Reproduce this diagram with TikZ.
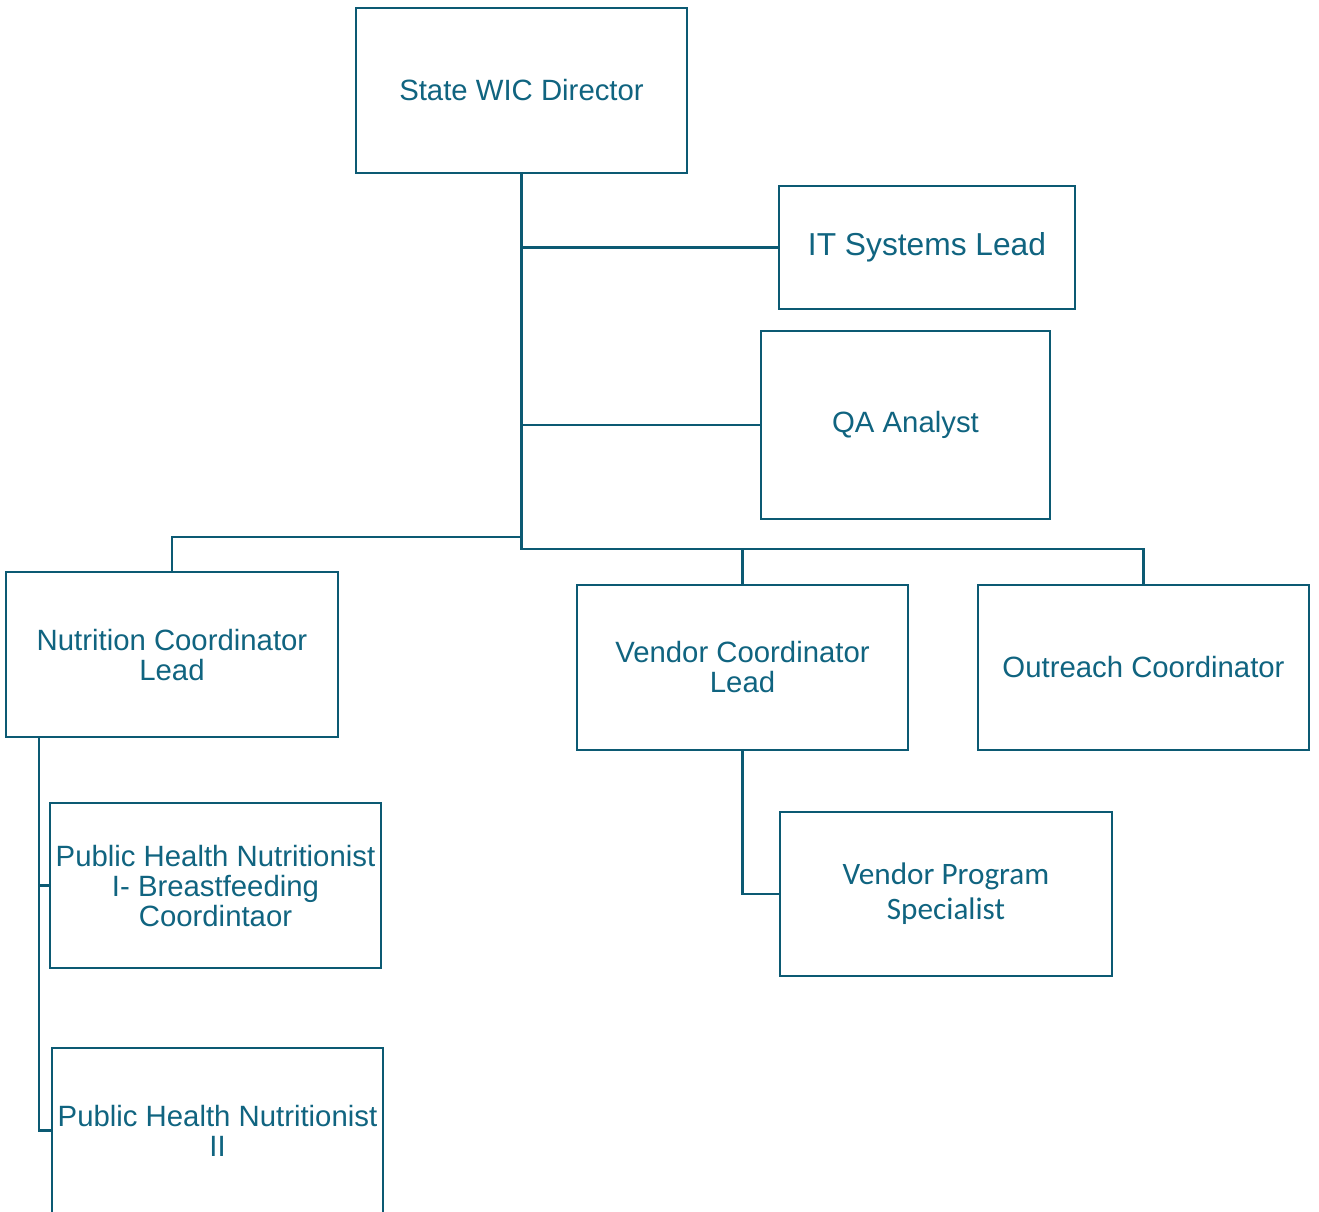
\documentclass[tikz,border=0pt]{standalone}
\usepackage{fontspec}
\setmainfont{Liberation Sans}
\newfontfamily\calibrifont{Carlito}
\definecolor{linec}{RGB}{12,90,115}
\definecolor{textc}{RGB}{16,100,128}
\begin{document}
\begin{tikzpicture}[x=0.75pt,y=-0.75pt,
  box/.style={draw=linec,line width=1.9pt,rectangle,inner sep=0pt,align=center,text=textc,
    font=\fontsize{22}{22.5}\selectfont},
  conn/.style={draw=linec,line width=2.1pt}]
\useasboundingbox (0,0) rectangle (1319,1211);
\fill[white] (0,0) rectangle (1319,1211);
\node[box,minimum width=331*0.75pt,minimum height=165*0.75pt] (dir) at (521.5,90.5) {State WIC Director};
\node[box,minimum width=296*0.75pt,minimum height=123*0.75pt,font=\fontsize{23.8}{24}\selectfont] (it) at (927,247.5) {IT Systems Lead};
\node[box,minimum width=289*0.75pt,minimum height=188*0.75pt] (qa) at (905.5,425) {QA Analyst};
\node[box,minimum width=332*0.75pt,minimum height=165*0.75pt] (ncl) at (172,654.5) {Nutrition Coordinator\\Lead};
\node[box,minimum width=331*0.75pt,minimum height=165*0.75pt] (vcl) at (742.5,667.5) {Vendor Coordinator\\Lead};
\node[box,minimum width=331*0.75pt,minimum height=165*0.75pt] (out) at (1143.5,667.5) {Outreach Coordinator};
\node[box,minimum width=331*0.75pt,minimum height=165*0.75pt] (phn1) at (215.5,885.5) {Public Health Nutritionist\\I- Breastfeeding\\Coordintaor};
\node[box,minimum width=331*0.75pt,minimum height=165*0.75pt] (phn2) at (217.5,1130.5) {Public Health Nutritionist\\II};
\node[box,minimum width=332*0.75pt,minimum height=164*0.75pt,font=\calibrifont\fontsize{23.4}{26.2}\selectfont] (vps) at (946,894) {Vendor Program\\Specialist};
% connectors
\coordinate (j) at (521.5,549);
\coordinate (k) at (521.5,537);
\coordinate (nx) at (39,737);
\draw[conn] (dir.south) -- (j) -| (out.north);
\draw[conn] (j -| vcl.north) -- (vcl.north);
\draw[conn] (dir.south |- it.west) -- (it.west);
\draw[conn] (dir.south |- qa.west) -- (qa.west);
\draw[conn] (k) -| (ncl.north);
\draw[conn] (nx) |- (phn2.west);
\draw[conn] (nx |- phn1.west) -- (phn1.west);
\draw[conn] (vcl.south) |- (vps.west);
\end{tikzpicture}
\end{document}
